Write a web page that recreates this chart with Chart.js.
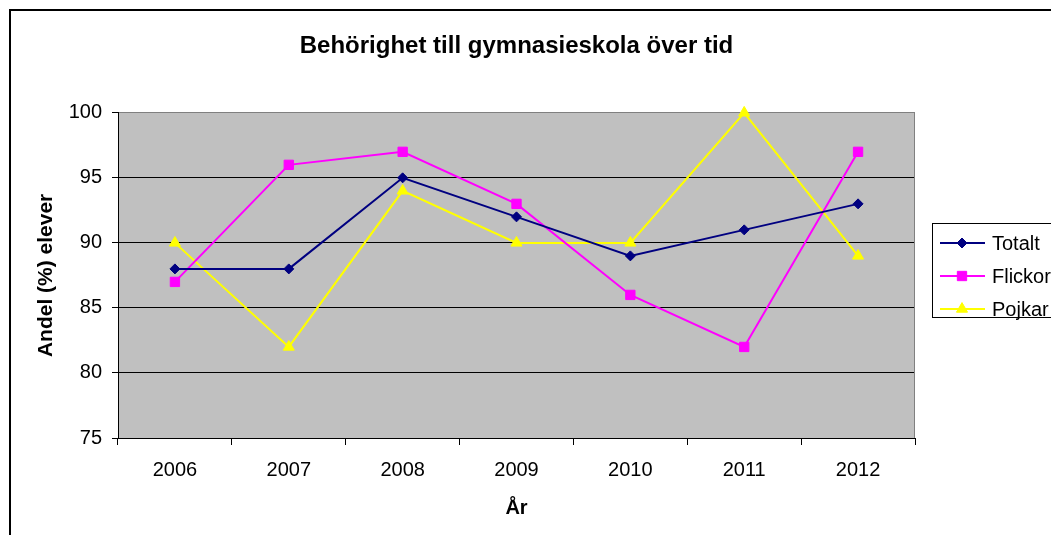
<!DOCTYPE html>
<html>
<head>
<meta charset="utf-8">
<script src="https://cdn.jsdelivr.net/npm/chart.js@4/dist/chart.umd.min.js"></script>
<style>
  html, body { margin: 0; padding: 0; background: #fff; }
  #wrap { width: 1051px; height: 535px; }
</style>
</head>
<body>
<div id="wrap"><canvas id="c" width="1051" height="535"></canvas></div>
<script>
const categories = ['2006', '2007', '2008', '2009', '2010', '2011', '2012'];
const totalt = [88, 88, 95, 92, 89, 91, 93];
const flickor = [87, 96, 97, 93, 86, 82, 97];
const pojkar = [90, 82, 94, 90, 90, 100, 89];
const seriesNames = ['Totalt', 'Flickor', 'Pojkar'];
const yMin = 75, yMax = 100, yStep = 5;
const chartTitle = 'Behörighet till gymnasieskola över tid';
const xTitle = 'År';
const yTitle = 'Andel (%) elever';

const FONT = "'Liberation Sans', Arial, sans-serif";

const plotBg = {
  id: 'plotBg',
  beforeDraw(chart) {
    const {ctx, chartArea: a} = chart;
    ctx.save();
    ctx.fillStyle = '#C0C0C0';
    ctx.fillRect(a.left, a.top, a.right - a.left, a.bottom - a.top);
    ctx.restore();
  },
  beforeDatasetsDraw(chart) {
    const {ctx, chartArea: a} = chart;
    ctx.save();
    ctx.strokeStyle = '#808080';
    ctx.lineWidth = 1;
    ctx.beginPath();
    ctx.moveTo(Math.round(a.right) - 0.5, a.top);
    ctx.lineTo(Math.round(a.right) - 0.5, a.bottom);
    ctx.stroke();
    ctx.restore();
  }
};

function drawMarker(ctx, style, x, y, r, color) {
  ctx.fillStyle = color;
  ctx.strokeStyle = color;
  ctx.beginPath();
  if (style === 'rectRot') {
    ctx.moveTo(x, y - r); ctx.lineTo(x + r, y); ctx.lineTo(x, y + r); ctx.lineTo(x - r, y);
  } else if (style === 'rect') {
    const s = r * Math.SQRT1_2;
    ctx.rect(x - s, y - s, 2 * s, 2 * s);
  } else {
    const h = r * Math.sqrt(3) / 2;
    ctx.moveTo(x, y - r); ctx.lineTo(x + h, y + r / 2); ctx.lineTo(x - h, y + r / 2);
  }
  ctx.closePath();
  ctx.fill();
  ctx.stroke();
}

const customLegend = {
  id: 'customLegend',
  afterDraw(chart) {
    const ctx = chart.ctx;
    ctx.save();
    ctx.fillStyle = '#fff';
    ctx.fillRect(932.5, 223.5, 140, 94);
    ctx.strokeStyle = '#000';
    ctx.lineWidth = 1;
    ctx.strokeRect(932.5, 223.5, 140, 94);
    const rows = [243, 276, 309];
    chart.data.datasets.forEach((ds, i) => {
      const y = rows[i];
      ctx.strokeStyle = ds.borderColor;
      ctx.lineWidth = 2;
      ctx.beginPath();
      ctx.moveTo(940, y); ctx.lineTo(985, y);
      ctx.stroke();
      ctx.lineWidth = 1;
      drawMarker(ctx, ds.pointStyle, 962, y, ds.pointRadius, ds.borderColor);
      ctx.fillStyle = '#000';
      ctx.font = '20px ' + FONT;
      ctx.textAlign = 'left';
      ctx.textBaseline = 'middle';
      ctx.fillText(ds.label, 992, y + 1);
    });
    // outer chart border
    ctx.strokeStyle = '#000';
    ctx.lineWidth = 2;
    ctx.strokeRect(10, 10, 1100, 600);
    ctx.restore();
  }
};

new Chart(document.getElementById('c'), {
  type: 'line',
  data: {
    labels: categories,
    datasets: [
      { label: seriesNames[0], data: totalt, borderColor: '#000080', backgroundColor: '#000080',
        pointStyle: 'rectRot', pointRadius: 5, pointHoverRadius: 5 },
      { label: seriesNames[1], data: flickor, borderColor: '#FF00FF', backgroundColor: '#FF00FF',
        pointStyle: 'rect', pointRadius: 6.6, pointHoverRadius: 6.6 },
      { label: seriesNames[2], data: pojkar, borderColor: '#FFFF00', backgroundColor: '#FFFF00',
        pointStyle: 'triangle', pointRadius: 6.4, pointHoverRadius: 6.4 }
    ].map(d => Object.assign(d, { borderWidth: 2, pointBorderWidth: 1, tension: 0, fill: false, clip: false }))
  },
  options: {
    responsive: false,
    animation: false,
    events: [],
    layout: { padding: { left: 0, right: 136, top: 0, bottom: 0 } },
    plugins: {
      legend: { display: false },
      tooltip: { enabled: false },
      title: {
        display: true, text: chartTitle, color: '#000', fullSize: false,
        font: { family: FONT, size: 24, weight: 'bold' },
        padding: { top: 32, bottom: 52 }
      }
    },
    scales: {
      x: {
        type: 'category',
        offset: true,
        grid: { display: true, offset: true, drawOnChartArea: false, drawTicks: true, tickLength: 7, color: '#000', lineWidth: 1 },
        border: { display: true, color: '#000', width: 1 },
        ticks: { color: '#000', font: { family: FONT, size: 20 }, padding: 13, maxRotation: 0, autoSkip: false },
        title: { display: true, text: xTitle, color: '#000', font: { family: FONT, size: 20, weight: 'bold' }, padding: { top: 4, bottom: 15 } },
        afterFit(scale) { scale.height = 97; }
      },
      y: {
        min: yMin, max: yMax,
        ticks: { stepSize: yStep, color: '#000', font: { family: FONT, size: 20 }, padding: 10 },
        grid: {
          color: ctx => (ctx.tick && ctx.tick.value === yMax) ? '#808080' : '#000',
          tickColor: '#000', tickLength: 6, lineWidth: 1, drawTicks: true
        },
        border: { display: true, color: '#000', width: 1 },
        title: { display: true, text: yTitle, color: '#000', font: { family: FONT, size: 21, weight: 'bold' }, padding: { top: 34, bottom: 4 } },
        afterFit(scale) { scale.width = 118; }
      }
    }
  },
  plugins: [plotBg, customLegend]
});
</script>
</body>
</html>
